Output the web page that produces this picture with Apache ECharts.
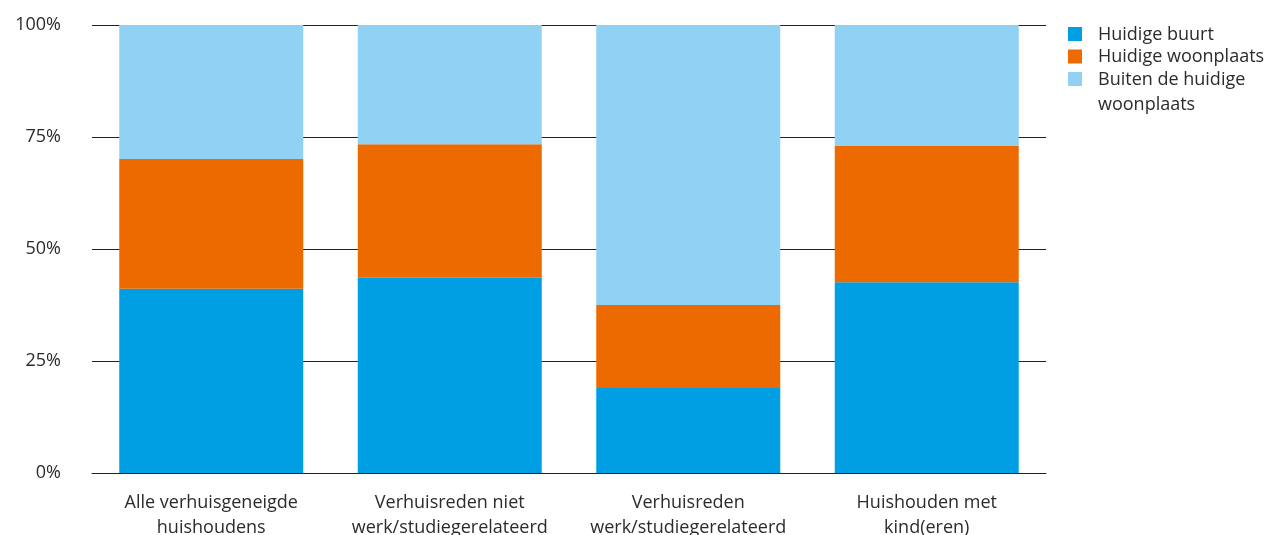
<!DOCTYPE html>
<html>
<head>
<meta charset="utf-8">
<script src="https://cdn.jsdelivr.net/npm/echarts@6/dist/echarts.min.js"></script>
<style>
  html, body { margin: 0; padding: 0; background: #fff; }
  #chart { width: 1273px; height: 535px; }
</style>
</head>
<body>
<div id="chart"></div>
<script>
// Categories (households) and share of each destination, in percent
const categories = [
  'Alle verhuisgeneigde\nhuishoudens',
  'Verhuisreden niet\nwerk/studiegerelateerd',
  'Verhuisreden\nwerk/studiegerelateerd',
  'Huishouden met\nkind(eren)'
];
const huidigeBuurt = [41.1, 43.6, 19.0, 42.6];
const huidigeWoonplaats = [29.0, 29.8, 18.5, 30.4];
const buitenWoonplaats = [29.9, 26.6, 62.5, 27.0];
const seriesNames = ['Huidige buurt', 'Huidige woonplaats', 'Buiten de huidige\nwoonplaats'];
const yTicks = [0, 25, 50, 75, 100];

const colors = ['#009FE3', '#EC6A00', '#91D1F3'];
const font = '"Open Sans", "Noto Sans", sans-serif';
const textColor = '#2b2b2b';
const fontSize = 18;

const chart = echarts.init(document.getElementById('chart'), null, { renderer: 'canvas' });

function barSeries(name, data, color) {
  return {
    name: name,
    type: 'bar',
    stack: 'total',
    data: data,
    barWidth: 184,
    itemStyle: { color: color },
    emphasis: { disabled: true }
  };
}

// Legend drawn as graphic items so that the swatch lines up with the first text line
const legendGraphics = [];
seriesNames.forEach((name, i) => {
  const top = 27 + i * 22.5;
  legendGraphics.push({
    type: 'rect',
    left: 1068,
    top: top,
    shape: { width: 14, height: 14 },
    style: { fill: colors[i] },
    silent: true
  });
  legendGraphics.push({
    type: 'text',
    left: 1098,
    top: top - 5,
    style: {
      text: name,
      fill: textColor,
      fontFamily: font,
      fontSize: fontSize,
      lineHeight: 25
    },
    silent: true
  });
});

chart.setOption({
  animation: false,
  textStyle: { fontFamily: font },
  grid: {
    left: 92, right: 227, top: 25, bottom: 62,
    containLabel: false,
    outerBoundsMode: 'none'
  },
  graphic: legendGraphics,
  xAxis: {
    type: 'category',
    data: categories,
    axisTick: { show: false },
    axisLine: { show: true, lineStyle: { color: '#222', width: 1 } },
    axisLabel: {
      interval: 0,
      margin: 17,
      fontFamily: font,
      fontSize: fontSize,
      lineHeight: 25,
      color: textColor,
      align: 'center'
    }
  },
  yAxis: {
    type: 'value',
    min: yTicks[0],
    max: yTicks[yTicks.length - 1],
    interval: 25,
    axisLine: { show: false },
    axisTick: { show: false },
    splitLine: { show: true, lineStyle: { color: '#222', width: 1 } },
    axisLabel: {
      margin: 31,
      fontFamily: font,
      fontSize: fontSize,
      color: textColor,
      padding: [0, 0, 4, 0],
      formatter: v => v + '%'
    }
  },
  series: [
    barSeries(seriesNames[0], huidigeBuurt, colors[0]),
    barSeries(seriesNames[1], huidigeWoonplaats, colors[1]),
    barSeries(seriesNames[2], buitenWoonplaats, colors[2])
  ]
});
</script>
</body>
</html>
